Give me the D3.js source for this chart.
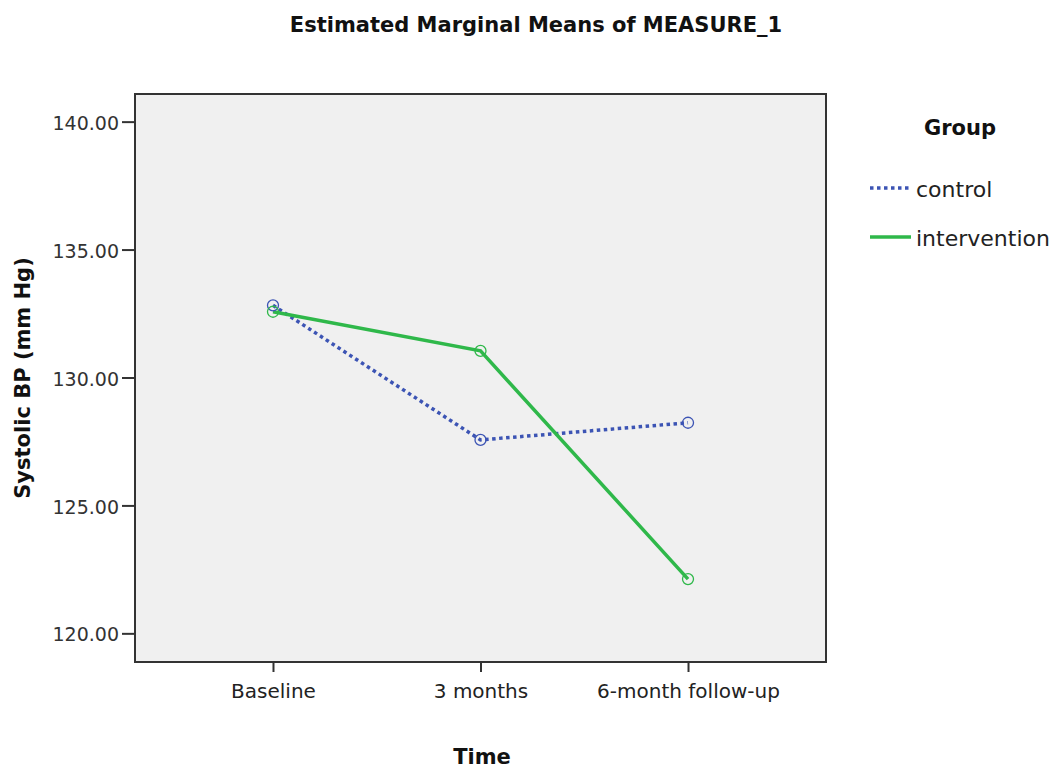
<!DOCTYPE html>
<html>
<head>
<meta charset="utf-8">
<script src="https://cdn.jsdelivr.net/npm/d3@7"></script>
<style>
  html, body { margin: 0; padding: 0; background: #ffffff; }
  svg { display: block; }
  text { font-family: "DejaVu Sans", sans-serif; }
</style>
</head>
<body>
<svg id="chart" width="1059" height="769"></svg>
<script>
const categories = ["Baseline", "3 months", "6-month follow-up"];
const controlValues = [132.82, 127.56, 128.23];
const interventionValues = [132.57, 131.04, 122.12];
const yTicks = [120, 125, 130, 135, 140];
const seriesNames = ["control", "intervention"];

const svg = d3.select("#chart");
const plot = { left: 135, right: 826, top: 94, bottom: 662 };

const x = d3.scalePoint().domain(categories).range([plot.left, plot.right]).padding(0.665);
const y = d3.scaleLinear().domain([118.88, 141.08]).range([plot.bottom, plot.top]);

// plot background
svg.append("rect")
  .attr("x", plot.left).attr("y", plot.top)
  .attr("width", plot.right - plot.left).attr("height", plot.bottom - plot.top)
  .attr("fill", "#f0f0f0").attr("stroke", "#333").attr("stroke-width", 2);

// Y axis
const yAxis = d3.axisLeft(y).tickValues(yTicks).tickFormat(d3.format(".2f")).tickSize(13).tickPadding(3);
const gy = svg.append("g").attr("transform", `translate(${plot.left},0)`).call(yAxis);
gy.select(".domain").remove();
gy.selectAll(".tick line").attr("stroke", "#333").attr("stroke-width", 2);
gy.selectAll(".tick text").attr("fill", "#333").style("font-size", "19px").style("font-family", "DejaVu Sans").attr("dy", "0.4em");

// X axis
const xAxis = d3.axisBottom(x).tickSize(10).tickPadding(12);
const gx = svg.append("g").attr("transform", `translate(0,${plot.bottom})`).call(xAxis);
gx.select(".domain").remove();
gx.selectAll(".tick line").attr("stroke", "#333").attr("stroke-width", 2);
gx.selectAll(".tick text").attr("fill", "#222").style("font-size", "20px").style("font-family", "DejaVu Sans");

// Titles
svg.append("text").attr("x", 536).attr("y", 32).attr("text-anchor", "middle")
  .style("font-size", "21px").style("font-weight", "bold").attr("fill", "#111")
  .text("Estimated Marginal Means of MEASURE_1");
svg.append("text").attr("x", 482).attr("y", 764).attr("text-anchor", "middle")
  .style("font-size", "21px").style("font-weight", "bold").attr("fill", "#111")
  .text("Time");
svg.append("text").attr("transform", "translate(30,378) rotate(-90)").attr("text-anchor", "middle")
  .style("font-size", "21px").style("font-weight", "bold").attr("fill", "#111")
  .text("Systolic BP (mm Hg)");

const colors = { control: "#3c54b4", intervention: "#2fb84a" };
const series = [
  { name: "control", values: controlValues, dash: "3.5,3.5" },
  { name: "intervention", values: interventionValues, dash: null }
];

const line = d3.line().x((d, i) => x(categories[i])).y(d => y(d));

series.forEach(s => {
  svg.append("path").datum(s.values)
    .attr("d", line).attr("fill", "none")
    .attr("stroke", colors[s.name]).attr("stroke-width", 3.5)
    .attr("stroke-dasharray", s.dash);
});
series.forEach(s => {
  svg.selectAll(null).data(s.values).enter().append("circle")
    .attr("cx", (d, i) => x(categories[i])).attr("cy", d => y(d))
    .attr("r", 5.5).attr("fill", "none")
    .attr("stroke", colors[s.name]).attr("stroke-width", 1.3);
});

// Legend
svg.append("text").attr("x", 960).attr("y", 135).attr("text-anchor", "middle")
  .style("font-size", "21px").style("font-weight", "bold").attr("fill", "#111")
  .text("Group");
const legY = [188, 237];
series.forEach((s, i) => {
  svg.append("line").attr("x1", 870).attr("x2", 911).attr("y1", legY[i]).attr("y2", legY[i])
    .attr("stroke", colors[s.name]).attr("stroke-width", 3.5)
    .attr("stroke-dasharray", s.dash);
  svg.append("text").attr("x", 916).attr("y", legY[i] + 9)
    .style("font-size", "22px").attr("fill", "#222").text(seriesNames[i]);
});
</script>
</body>
</html>
